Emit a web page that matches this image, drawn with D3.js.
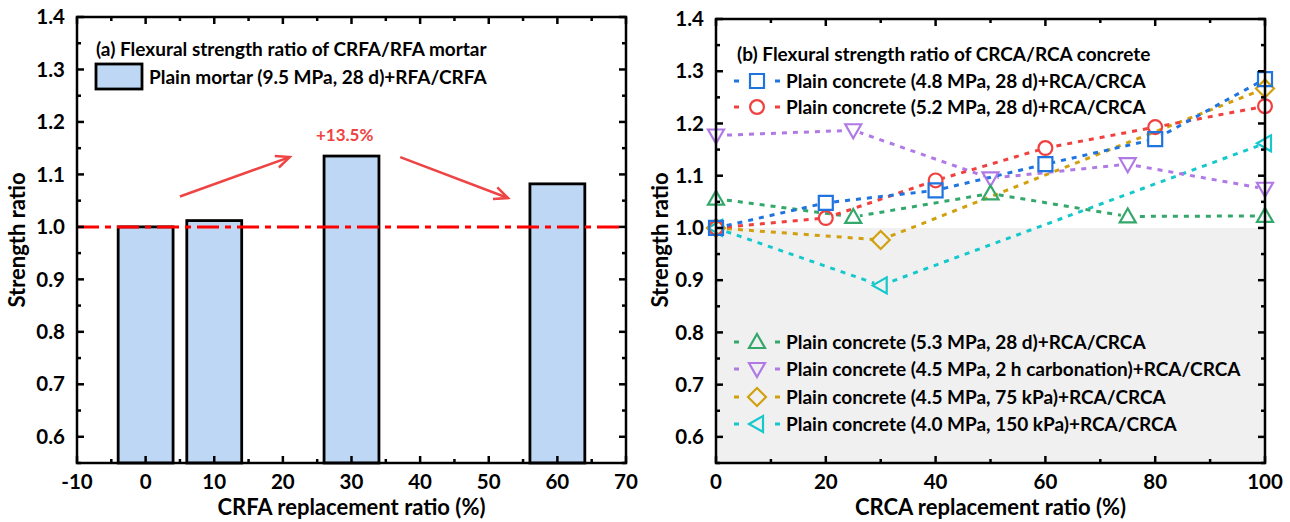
<!DOCTYPE html>
<html><head><meta charset="utf-8">
<script src="https://cdn.jsdelivr.net/npm/d3@7"></script>
<style>body{margin:0;background:#fff}svg{display:block;font-family:Lato,"Open Sans",sans-serif;font-weight:700}</style>
</head><body><svg id="c" width="1290" height="522"></svg>
<script>
// ---- data ----
const barCategories = [0, 10, 30, 60];
const barValues = [1.0, 1.012, 1.135, 1.082];
const barLegend = "Plain mortar (9.5 MPa, 28 d)+RFA/CRFA";
const leftTitle = "(a) Flexural strength ratio of CRFA/RFA mortar";
const rightTitle = "(b) Flexural strength ratio of CRCA/RCA concrete";
const leftXTicks = [-10, 0, 10, 20, 30, 40, 50, 60, 70];
const rightXTicks = [0, 20, 40, 60, 80, 100];
const yTicks = [0.6, 0.7, 0.8, 0.9, 1.0, 1.1, 1.2, 1.3, 1.4];
const annotationText = "+13.5%";

const s1x = [0, 20, 40, 60, 80, 100];
const s1y = [1.0, 1.048, 1.072, 1.122, 1.170, 1.285];
const s2x = [0, 20, 40, 60, 80, 100];
const s2y = [1.0, 1.019, 1.091, 1.153, 1.193, 1.233];
const s3x = [0, 25, 50, 75, 100];
const s3y = [1.056, 1.021, 1.066, 1.022, 1.023];
const s4x = [0, 25, 50, 75, 100];
const s4y = [1.177, 1.187, 1.095, 1.122, 1.075];
const s5x = [0, 30, 100];
const s5y = [1.0, 0.977, 1.267];
const s6x = [0, 30, 100];
const s6y = [1.0, 0.890, 1.162];
const seriesNames = [
  "Plain concrete (4.8 MPa, 28 d)+RCA/CRCA",
  "Plain concrete (5.2 MPa, 28 d)+RCA/CRCA",
  "Plain concrete (5.3 MPa, 28 d)+RCA/CRCA",
  "Plain concrete (4.5 MPa, 2 h carbonation)+RCA/CRCA",
  "Plain concrete (4.5 MPa, 75 kPa)+RCA/CRCA",
  "Plain concrete (4.0 MPa, 150 kPa)+RCA/CRCA"
];
const seriesColors = ["#1f74e0", "#f04040", "#33a86a", "#b07ae6", "#d1a00e", "#14c8cc"];
const seriesMarkers = ["square", "circle", "up", "down", "diamond", "left"];

// ---- layout ----
const svg = d3.select("#c");
const defs = svg.append("defs");
const yTop = 17, yBot = 463;
const Lx = d3.scaleLinear().domain([-10, 70]).range([77, 626]);
const Ly = d3.scaleLinear().domain([0.55, 1.4]).range([yBot, yTop]);
const Rx = d3.scaleLinear().domain([0, 100]).range([716, 1265]);
const Ry = d3.scaleLinear().domain([0.55, 1.4]).range([yBot, 19]);
const TICK_FS = 20.5, TITLE_FS = 22, LEG_FS = 19;

function frame(x, y, xMajor, xMinor, xTicks) {
  const g = svg.append("g");
  const [x0, x1] = x.range(), [y0, y1] = y.range();
  const yMaj = d3.range(0.6, 1.401, 0.1), yMin = d3.range(0.55, 1.401, 0.05);
  const ticks = [];
  yMin.forEach(v => { const M = yMaj.some(m => Math.abs(m - v) < 1e-6); const L = M ? 7 : 4;
    ticks.push([x0, y(v), x0 + L, y(v)], [x1, y(v), x1 - L, y(v)]); });
  const [d0, d1] = x.domain();
  for (let v = d0; v <= d1 + 1e-6; v += xMinor) { const M = Math.abs(((v - d0) / xMajor) - Math.round((v - d0) / xMajor)) < 1e-6; const L = M ? 7 : 4;
    ticks.push([x(v), y0, x(v), y0 - L], [x(v), y1, x(v), y1 + L]); }
  g.selectAll("line.t").data(ticks).join("line").attr("x1", d => d[0]).attr("y1", d => d[1]).attr("x2", d => d[2]).attr("y2", d => d[3])
    .attr("stroke", "#000").attr("stroke-width", 2.5);
  g.append("rect").attr("x", x0).attr("y", y1).attr("width", x1 - x0).attr("height", y0 - y1)
    .attr("fill", "none").attr("stroke", "#000").attr("stroke-width", 2.5);
  g.selectAll("text.yl").data(yTicks).join("text").attr("x", x0 - 12).attr("y", d => y(d)).attr("dy", "0.35em")
    .attr("text-anchor", "end").attr("font-size", TICK_FS).text(d => d.toFixed(1));
  g.selectAll("text.xl").data(xTicks).join("text").attr("x", d => x(d)).attr("y", y0 + 26)
    .attr("text-anchor", "middle").attr("font-size", TICK_FS).text(d => d);
}

// ---- left panel ----
const barW = 8;
svg.append("g").selectAll("rect").data(barCategories).join("rect")
  .attr("x", (d) => Lx(d - barW / 2)).attr("width", Lx(barW) - Lx(0))
  .attr("y", (d, i) => Ly(barValues[i])).attr("height", (d, i) => Ly(0.55) - Ly(barValues[i]))
  .attr("fill", "#bdd7f4").attr("stroke", "#000").attr("stroke-width", 2.8);
svg.append("line").attr("x1", Lx(-10)).attr("x2", Lx(70)).attr("y1", Ly(1.0)).attr("y2", Ly(1.0))
  .attr("stroke", "#ff0000").attr("stroke-width", 3).attr("stroke-dasharray", "22,6,6,6");
frame(Lx, Ly, 10, 5, leftXTicks);

// arrows
function arrow(xa, ya, xb, yb) {
  const X1 = Lx(xa), Y1 = Ly(ya), X2 = Lx(xb), Y2 = Ly(yb);
  const a = Math.atan2(Y2 - Y1, X2 - X1), h = 15, sp = 0.42;
  const c = "#ee4444";
  svg.append("line").attr("x1", X1).attr("y1", Y1).attr("x2", X2).attr("y2", Y2).attr("stroke", c).attr("stroke-width", 2.5);
  svg.append("path").attr("d", `M${X2 - h * Math.cos(a - sp)},${Y2 - h * Math.sin(a - sp)}L${X2},${Y2}L${X2 - h * Math.cos(a + sp)},${Y2 - h * Math.sin(a + sp)}`)
    .attr("fill", "none").attr("stroke", c).attr("stroke-width", 2.5);
}
arrow(5, 1.058, 21, 1.133);
arrow(37.1, 1.133, 52.8, 1.055);
svg.append("text").attr("x", Lx(29)).attr("y", Ly(1.175)).attr("dy", "0.35em").attr("text-anchor", "middle")
  .attr("font-size", 17).attr("fill", "#ee4444").text(annotationText);

svg.append("text").attr("x", 96).attr("y", 56).attr("font-size", LEG_FS).text(leftTitle);
svg.append("rect").attr("x", 96).attr("y", 64).attr("width", 46).attr("height", 25).attr("fill", "#bdd7f4").attr("stroke", "#000").attr("stroke-width", 2.8);
svg.append("text").attr("x", 149).attr("y", 77).attr("dy", "0.35em").attr("font-size", LEG_FS).text(barLegend);

svg.append("text").attr("transform", `translate(25,${(yTop + yBot) / 2}) rotate(-90)`).attr("text-anchor", "middle").attr("font-size", TITLE_FS).text("Strength ratio");
svg.append("text").attr("x", (Lx.range()[0] + Lx.range()[1]) / 2).attr("y", 515).attr("text-anchor", "middle").attr("font-size", TITLE_FS).text("CRFA replacement ratio (%)");

// ---- right panel ----
svg.append("rect").attr("x", Rx(0)).attr("y", Ry(1.0)).attr("width", Rx(100) - Rx(0)).attr("height", Ry(0.55) - Ry(1.0)).attr("fill", "#f0f0f0");

function markerPath(type) {
  const s = 8;
  switch (type) {
    case "square": return `M${-s + 1},${-s + 1}H${s - 1}V${s - 1}H${-s + 1}Z`;
    case "circle": return d3.symbol(d3.symbolCircle, 150)();
    case "up": return `M0,${-s}L${s},${s * 0.75}L${-s},${s * 0.75}Z`;
    case "down": return `M0,${s}L${s},${-s * 0.75}L${-s},${-s * 0.75}Z`;
    case "diamond": return `M0,${-s - 1}L${s + 1},0L0,${s + 1}L${-s - 1},0Z`;
    case "left": return `M${-s},0L${s * 0.75},${-s}L${s * 0.75},${s}Z`;
  }
}
const allX = [s1x, s2x, s3x, s4x, s5x, s6x], allY = [s1y, s2y, s3y, s4y, s5y, s6y];
const line = d3.line().x(d => Rx(d[0])).y(d => Ry(d[1]));
const drawOrder = [5, 4, 3, 2, 1, 0];
drawOrder.forEach(i => {
  const pts = allX[i].map((x, j) => [x, allY[i][j]]);
  const m = defs.append("mask").attr("id", "m" + i).attr("maskUnits", "userSpaceOnUse")
    .attr("x", 0).attr("y", 0).attr("width", 1290).attr("height", 522);
  m.append("rect").attr("width", 1290).attr("height", 522).attr("fill", "#fff");
  m.selectAll("circle").data(pts).join("circle").attr("cx", d => Rx(d[0])).attr("cy", d => Ry(d[1])).attr("r", 7).attr("fill", "#000");
  svg.append("path").attr("d", line(pts)).attr("fill", "none").attr("stroke", seriesColors[i]).attr("stroke-width", 3)
    .attr("stroke-dasharray", "5,6").attr("mask", `url(#m${i})`);
});
drawOrder.forEach(i => {
  const pts = allX[i].map((x, j) => [x, allY[i][j]]);
  svg.append("g").selectAll("path").data(pts).join("path").attr("d", markerPath(seriesMarkers[i]))
    .attr("transform", d => `translate(${Rx(d[0])},${Ry(d[1])})`).attr("fill", "none").attr("stroke", seriesColors[i]).attr("stroke-width", 2.2);
});
frame(Rx, Ry, 20, 10, rightXTicks);

svg.append("text").attr("x", 737).attr("y", 61).attr("font-size", LEG_FS).text(rightTitle);
const legY = [81, 107, 342, 369, 397, 424];
seriesNames.forEach((n, i) => {
  const g = svg.append("g").attr("transform", `translate(0,${legY[i]})`);
  [[734, 739], [775, 780]].forEach(([a, b]) =>
    g.append("line").attr("x1", a).attr("x2", b).attr("y1", 0).attr("y2", 0).attr("stroke", seriesColors[i]).attr("stroke-width", 3));
  g.append("path").attr("d", markerPath(seriesMarkers[i])).attr("transform", "translate(757,0)").attr("fill", "none").attr("stroke", seriesColors[i]).attr("stroke-width", 2.2);
  g.append("text").attr("x", 786).attr("dy", "0.35em").attr("font-size", LEG_FS).text(n);
});

svg.append("text").attr("transform", `translate(668,${(yTop + yBot) / 2}) rotate(-90)`).attr("text-anchor", "middle").attr("font-size", TITLE_FS).text("Strength ratio");
svg.append("text").attr("x", (Rx.range()[0] + Rx.range()[1]) / 2).attr("y", 515).attr("text-anchor", "middle").attr("font-size", TITLE_FS).text("CRCA replacement ratio (%)");
</script></body></html>
